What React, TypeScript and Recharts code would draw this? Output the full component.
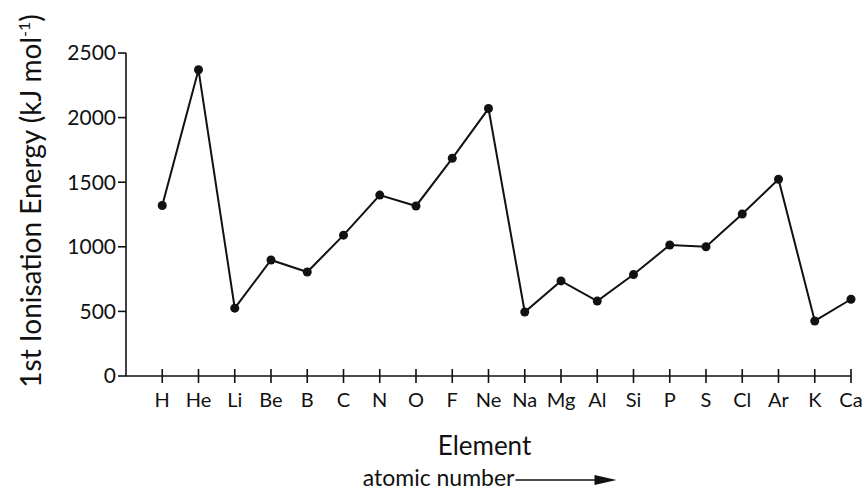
import { LineChart, Line, XAxis, YAxis, Label } from 'recharts';

const elements = [
  'H', 'He', 'Li', 'Be', 'B', 'C', 'N', 'O', 'F', 'Ne',
  'Na', 'Mg', 'Al', 'Si', 'P', 'S', 'Cl', 'Ar', 'K', 'Ca',
];

const ionisationEnergy = [
  1320, 2370, 525, 898, 805, 1090, 1400, 1316, 1685, 2070,
  495, 736, 580, 785, 1014, 1000, 1254, 1523, 426, 594,
];

const yTicks = [0, 500, 1000, 1500, 2000, 2500];
const atomicNumbers = elements.map((_, i) => i + 1);

const data = elements.map((el, i) => ({
  n: atomicNumbers[i],
  el,
  energy: ionisationEnergy[i],
}));

const FONT = 'Lato, "Open Sans", sans-serif';
const INK = '#111';

function ElementTick(props: any) {
  const { x, y, payload } = props;
  return (
    <g>
      <line x1={x} x2={x} y1={y - 7} y2={y + 7} stroke={INK} strokeWidth={1.6} />
      <text
        x={x}
        y={y + 31}
        textAnchor="middle"
        fontSize={20}
        fontFamily={FONT}
        fill={INK}
      >
        {elements[payload.value - 1]}
      </text>
    </g>
  );
}

function XTitle(props: any) {
  const { viewBox } = props;
  const cx = viewBox.x + viewBox.width / 2 - 4;
  const top = viewBox.y;
  return (
    <g fontFamily={FONT} fill={INK}>
      <text x={cx} y={top + 79} textAnchor="middle" fontSize={26}>
        Element
      </text>
      <text x={cx + 30} y={top + 110} textAnchor="end" fontSize={23}>
        atomic number
      </text>
      <line x1={cx + 31} x2={cx + 118} y1={top + 104} y2={top + 104} stroke={INK} strokeWidth={1.6} />
      <polygon
        points={`${cx + 132},${top + 104} ${cx + 110},${top + 99} ${cx + 110},${top + 109}`}
        fill={INK}
      />
    </g>
  );
}

function YTitle(props: any) {
  const { viewBox } = props;
  const x = viewBox.x + 41;
  const y = viewBox.y + 148;
  return (
    <text
      x={x}
      y={y}
      transform={`rotate(-90 ${x} ${y})`}
      textAnchor="middle"
      fontSize={28}
      fontFamily={FONT}
      fill={INK}
    >
      1st Ionisation Energy (kJ mol
      <tspan fontSize={16} dy={-11}>-1</tspan>
      <tspan dy={11}>)</tspan>
    </text>
  );
}

export default function App() {
  return (
    <div style={{ position: 'absolute', left: 0, top: 0, background: '#fff' }}>
      <LineChart
        width={868}
        height={490}
        data={data}
        margin={{ top: 53, right: 17, left: 0, bottom: 0 }}
      >
        <XAxis
          dataKey="n"
          type="number"
          domain={[0, 20]}
          ticks={atomicNumbers}
          interval={0}
          height={114}
          tickSize={0}
          tickMargin={0}
          tickLine={false}
          axisLine={{ stroke: INK, strokeWidth: 1.6 }}
          tick={<ElementTick />}
        >
          <Label content={<XTitle />} />
        </XAxis>
        <YAxis
          type="number"
          domain={[0, 2500]}
          ticks={yTicks}
          interval={0}
          width={126}
          tickSize={8}
          tickMargin={2}
          axisLine={{ stroke: INK, strokeWidth: 1.6 }}
          tickLine={{ stroke: INK, strokeWidth: 1.6 }}
          tick={{ fill: INK, fontSize: 21, fontFamily: FONT }}
        >
          <Label content={<YTitle />} />
        </YAxis>
        <Line
          dataKey="energy"
          type="linear"
          stroke={INK}
          strokeWidth={2}
          dot={{ r: 4.5, fill: INK, stroke: INK, strokeWidth: 0 }}
          activeDot={false}
          isAnimationActive={false}
        />
      </LineChart>
    </div>
  );
}
